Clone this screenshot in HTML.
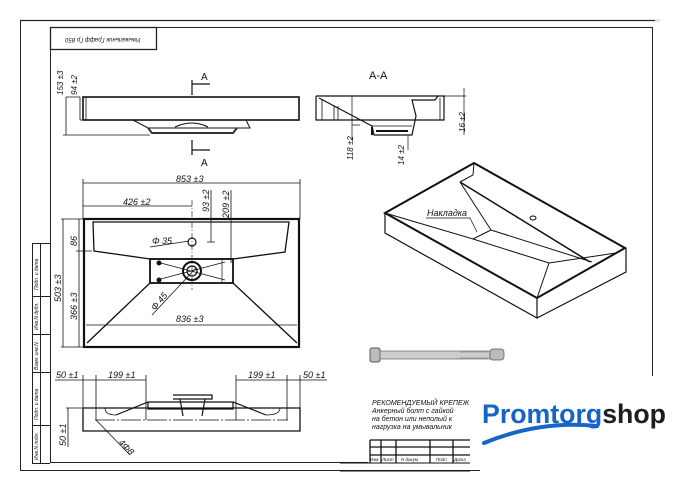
<!DOCTYPE html>
<html><head><meta charset="utf-8"><style>
html,body{margin:0;padding:0;background:#fff}
svg{display:block}
text{font-family:"Liberation Sans","DejaVu Sans",sans-serif;font-style:italic;fill:#111}
</style></head><body>
<svg width="678" height="492" viewBox="0 0 678 492" xmlns="http://www.w3.org/2000/svg">
<rect x="20" y="19" width="640" height="3" fill="#e6e6e6"/>
<g stroke="#222" fill="none" stroke-width="1">
<path d="M20.5 20V470.5H480"/>
<path d="M20 20.5H655"/>
<path d="M652.5 27V376"/>
<path d="M50.5 462.5V27.5H652"/>
<path d="M50 462.5H368"/>
<rect x="50.5" y="27.5" width="106" height="22" stroke-width="1.3"/>
<path d="M32.5 243V463M40.5 243V463M32 243.5H50M32 296.5H50M32 334.5H50M32 372.5H50M32 425.5H50M32 463.5H50"/>
</g>
<text x="103" y="42" font-size="6" text-anchor="middle" transform="rotate(180 103 40)">Умывальник Графф Гр 850</text>
<g font-size="5" fill="#333">
<text transform="translate(38 290) rotate(-90)">Подп. и дата</text>
<text transform="translate(38 330) rotate(-90)">Инв.N дубл.</text>
<text transform="translate(38 370) rotate(-90)">Взам. инв.N</text>
<text transform="translate(38 420) rotate(-90)">Подп. и дата</text>
<text transform="translate(38 460) rotate(-90)">Инв.N подл.</text>
</g>

<g stroke="#111" fill="none">
<rect x="83" y="97" width="216" height="23" stroke-width="1.6"/>
<path d="M86 97V120" stroke-width="0.8"/>
<path d="M133 120L148 128H250L246 120" stroke-width="1"/>
<path d="M148 128L152 133H233L237 128" stroke-width="2" stroke="#333"/>
<path d="M175 127Q192 119 208 127" stroke-width="1"/>
<path d="M63 135H150M66 97H80M80 120H82" stroke-width="0.8"/>
<path d="M66 97V135M80 97V120" stroke-width="0.8"/>
<path d="M192 80V95M192 84H210M192 140V155M192 150H210" stroke-width="1.2"/>
</g>
<g font-size="8"><text transform="translate(63 95) rotate(-90)">153 ±3</text><text transform="translate(77 95) rotate(-90)">94 ±2</text></g>
<text x="201" y="80" font-size="10" style="font-style:normal">A</text>
<text x="201" y="166" font-size="10" style="font-style:normal">A</text>

<text x="369" y="79" font-size="11" style="font-style:normal">A-A</text>
<g stroke="#111" fill="none" stroke-width="1.2">
<path d="M316 96H445M316 96V120H444V96"/>
<path d="M319 98L372 126L374 135H412L416 116L412 100H435L438 96"/>
<path d="M372 126H412M322 100V120M334 105V120M338 106V120M440 98V120" stroke-width="0.8"/>
<path d="M372 135V127M376 131H408" stroke-width="2"/>
<path d="M352 96V140M352 125H360M464 88V135M408 135V150M439 96H466" stroke-width="0.7"/>
</g>
<g font-size="8"><text transform="translate(353 160) rotate(-90)">118 ±2</text><text transform="translate(404 165) rotate(-90)">14 ±2</text><text transform="translate(465 132) rotate(-90)">16 ±2</text></g>

<g stroke="#111" fill="none">
<rect x="84" y="219" width="215" height="128" stroke-width="2.2"/>
<path d="M93 222H289L285 252L233 259H150L94 251Z" stroke-width="1.3"/>
<rect x="150" y="259" width="83" height="24" stroke-width="1.8"/>
<path d="M150 283L87 343M233 283L297 343" stroke-width="1.3"/>
<circle cx="192" cy="271" r="9" stroke-width="2"/>
<circle cx="192" cy="271" r="5" stroke-width="1.2"/>
<circle cx="192" cy="242" r="4" stroke-width="1.2"/>
<path d="M157 262L225 280M157 280L225 262M222 260V282" stroke-width="0.7"/>
<circle cx="159" cy="263" r="2" fill="#111"/><circle cx="159" cy="280" r="2" fill="#111"/>
<path d="M192 200V290" stroke-dasharray="6 2 1 2" stroke-width="0.6"/>
<g stroke-width="0.8">
<path d="M83 183H300M83 179V219M300 179V219"/>
<path d="M83 206H192"/>
<path d="M211 190V242M231 190V263M207 242H215"/>
<path d="M63 219V347M61 219H83M61 347H83"/>
<path d="M79 219V347M76 251H92"/>
<path d="M86 325H297"/>
<path d="M150 247L189 241M152 315L196 268"/>
</g>
</g>
<g font-size="9">
<text x="176" y="182">853 ±3</text>
<text x="123" y="205">426 ±2</text>
<text transform="translate(209 212) rotate(-90)">93 ±2</text>
<text transform="translate(229 218) rotate(-90)">209 ±2</text>
<text transform="translate(61 302) rotate(-90)">503 ±3</text>
<text transform="translate(77 246) rotate(-90)">86</text>
<text transform="translate(77 320) rotate(-90)">366 ±3</text>
<text x="176" y="322">836 ±3</text>
<text x="152" y="244">Φ 35</text>
<text transform="translate(155 311) rotate(-50)">Φ 45</text>
</g>

<g stroke="#111" fill="none">
<path d="M83 408V431H300V408H83" stroke-width="1.3"/>
<path d="M95 420H288" stroke-width="0.7" stroke-dasharray="20 2 2 2"/>
<path d="M116 415L148 402H233L266 415M148 402V409H233V402M173 395H212V399H173M180 399L183 416M205 399L202 416" stroke-width="1.2"/>
<path d="M105 408Q105 415 116 415M280 408Q280 415 266 415" stroke-width="0.8"/>
<g stroke-width="0.8">
<path d="M55 380H83M83 380H96M96 380H146M236 380H287M287 380H300M300 380H327"/>
<path d="M83 375V408M96 375V420M146 375V420M236 375V420M287 375V420M300 375V408"/>
<path d="M68 408V447M66 408H83M96 420L130 455"/>
</g>
</g>
<g font-size="9">
<text x="56" y="378">50 ±1</text><text x="108" y="378">199 ±1</text>
<text x="248" y="378">199 ±1</text><text x="303" y="378">50 ±1</text>
<text transform="translate(66 446) rotate(-90)">50 ±1</text>
<text transform="translate(118 443) rotate(45)">4Φ8</text>
</g>

<g stroke="#111" fill="none">
<path d="M474 163L385 213L537 298L625 248Z" stroke-width="2"/>
<path d="M385 213V233L537 318V298M537 318L626 272V248" stroke-width="1.2"/>
<path d="M385 213L473 239L491 230L460 182M473 239L549 263L616 253M491 230L592 262M474 163L473 175L460 182M549 263L537 298M616 253L625 248" stroke-width="1"/>
<path d="M460 182L590 262" stroke-width="1.5"/>
<ellipse cx="533" cy="218" rx="3" ry="2" stroke-width="1"/>
<path d="M426 218H470L477 232" stroke-width="0.7"/>
</g>
<text x="427" y="216" font-size="9">Накладка</text>

<g>
<rect x="370" y="348" width="10" height="14" rx="2" fill="#bbb" stroke="#555"/>
<rect x="380" y="351" width="110" height="8" fill="#ccc" stroke="#666" stroke-width="0.7"/>
<rect x="490" y="349" width="14" height="11" rx="3" fill="#bbb" stroke="#555" stroke-width="0.7"/>
<path d="M460 352H488M460 358H488" stroke="#777" stroke-width="0.6"/>
</g>

<g font-size="7" fill="#223">
<text x="372" y="405">РЕКОМЕНДУЕМЫЙ КРЕПЕЖ</text>
<text x="372" y="413">Анкерный болт с гайкой</text>
<text x="372" y="421">на бетон или неполый к</text>
<text x="372" y="429">нагрузка на умывальник</text>
</g>
<g stroke="#111" fill="none" stroke-width="1.3">
<path d="M370 440H470M370 447H470M370 455H470M370 440V463M381 440V463M396 440V463M430 440V463M453 440V463"/>
<path d="M340 463H470M340 471H470" stroke-width="1"/>
</g>
<g font-size="4.5"><text x="370" y="461">Изм.</text><text x="382" y="461">Лист</text><text x="401" y="461">N докум</text><text x="436" y="461">Подп</text><text x="454" y="461">Дата</text></g>

<rect x="472" y="376" width="206" height="86" fill="#fff"/>
<text x="482" y="423" font-size="27" textLength="184" lengthAdjust="spacingAndGlyphs" style="font-style:normal;font-weight:bold" fill="#1565c8"><tspan fill="#1565c8">Promtorg</tspan><tspan fill="#1b1f24">shop</tspan></text>
<path d="M484 443Q540 420 597 426" stroke="#1565c8" stroke-width="4" fill="none" stroke-linecap="round"/>
</svg>
</body></html>
